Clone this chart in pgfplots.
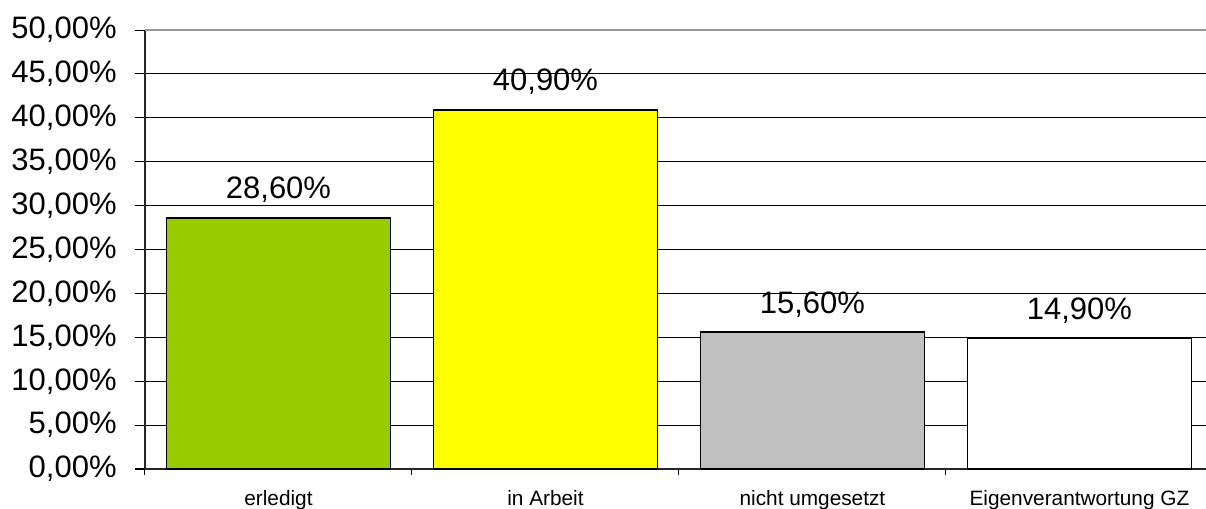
\documentclass[border=0pt]{standalone}
\usepackage{fontspec}
\setmainfont{Liberation Sans}
\usepackage{pgfplots}
\pgfplotsset{compat=1.18}
\definecolor{bargreen}{HTML}{99CC00}
\definecolor{baryellow}{HTML}{FFFF00}
\definecolor{bargray}{HTML}{C0C0C0}
\begin{document}
\begin{tikzpicture}
\begin{axis}[
  at={(0,0)}, anchor=south west,
  scale only axis, width=530.5pt, height=219.5pt,
  xmin=-0.5, xmax=3.474, ymin=0, ymax=50,
  axis x line*=bottom, axis y line*=left,
  axis line style={black!85, line width=0.8pt},
  ytick={0,5,...,45}, extra y ticks={50}, extra y tick style={grid=none},
  ymajorgrids, major grid style={black, line width=0.5pt},
  tick align=outside,
  major tick length=5pt,
  tick style={black, line width=0.5pt},
  xtick={0,1,2,3},
  xticklabels={erledigt, in Arbeit, nicht umgesetzt, Eigenverantwortung GZ},
  major x tick style={draw=none},
  minor xtick={-0.5,0.5,1.5,2.5},
  minor tick length=3pt,
  yticklabel={\pgfmathprintnumber[fixed,fixed zerofill,precision=2,use comma,assume math mode=true]{\tick}\%},
  yticklabel style={font=\fontsize{15.5}{18}\selectfont, anchor=east, inner sep=0pt, xshift=-9pt},
  xticklabel style={font=\fontsize{10.4}{12}\selectfont, anchor=north, inner sep=0pt, yshift=-5.5pt},
  nodes near coords style={font=\fontsize{15.5}{18}\selectfont, anchor=base, inner sep=0pt, yshift=9.5pt},
  clip=false,
]
\addplot[ybar, bar shift=0pt, bar width=0.84, fill=bargreen, draw=black, line width=0.75pt, nodes near coords, point meta=explicit symbolic] coordinates {(0,28.6) [28,60\%]};
\addplot[ybar, bar shift=0pt, bar width=0.84, fill=baryellow, draw=black, line width=0.75pt, nodes near coords, point meta=explicit symbolic] coordinates {(1,40.9) [40,90\%]};
\addplot[ybar, bar shift=0pt, bar width=0.84, fill=bargray, draw=black, line width=0.75pt, nodes near coords, point meta=explicit symbolic] coordinates {(2,15.6) [15,60\%]};
\addplot[ybar, bar shift=0pt, bar width=0.84, fill=white, draw=black, line width=0.75pt, nodes near coords, point meta=explicit symbolic] coordinates {(3,14.9) [14,90\%]};
\draw[gray!80, line width=1pt] (rel axis cs:0,1) -- (rel axis cs:1,1);
\end{axis}
\pgfresetboundingbox
\path (-72.5pt,-20pt) rectangle (530.5pt,234.5pt);
\end{tikzpicture}
\end{document}
